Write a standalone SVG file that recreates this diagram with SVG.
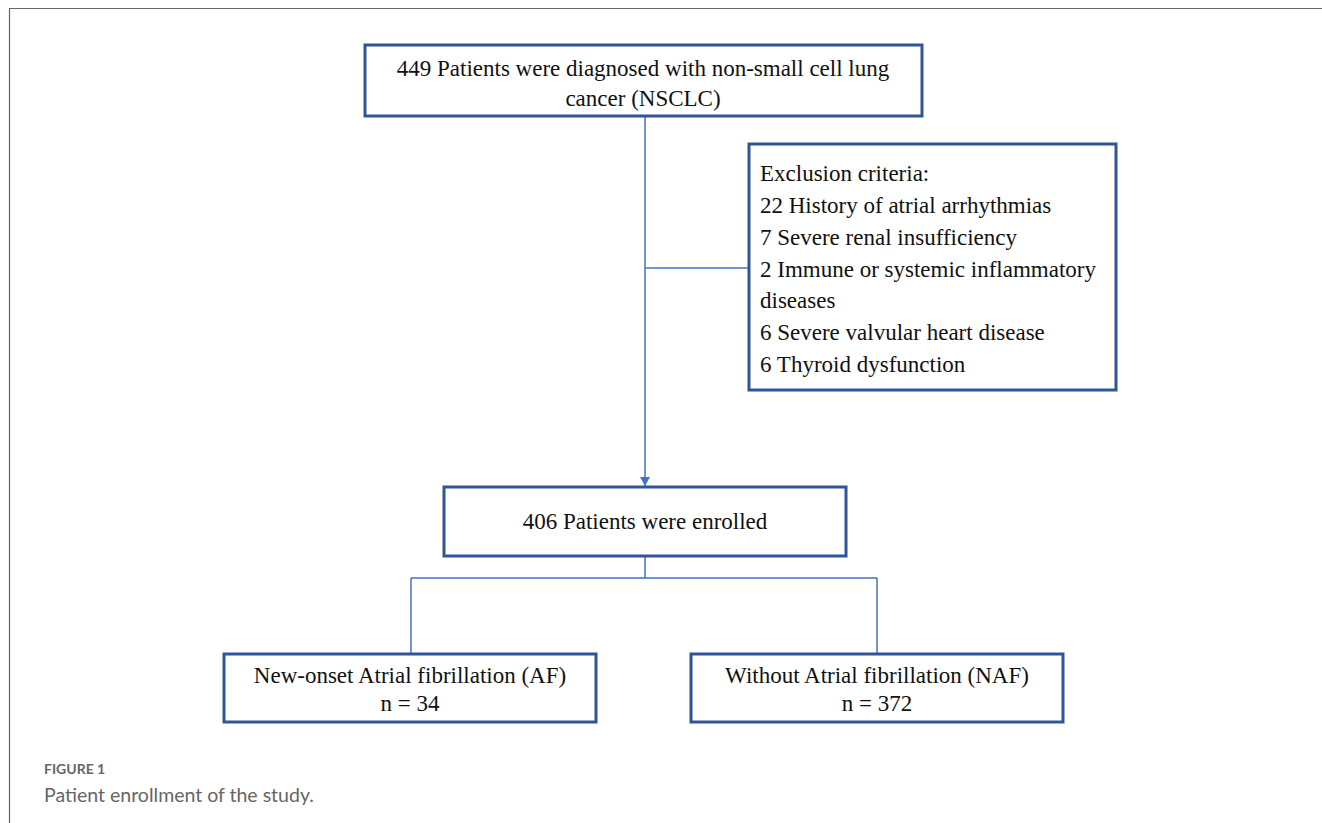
<svg xmlns="http://www.w3.org/2000/svg" width="1322" height="823" viewBox="0 0 1322 823">
<style>
.box{fill:#fff;stroke:#2F5597;stroke-width:3}
.t{font-family:"Liberation Serif","Times New Roman",serif;font-size:23px;fill:#111}
.c{text-anchor:middle}
.conn{fill:none;stroke:#4472C4;stroke-width:1.5}
.cap{font-family:"Lato","Open Sans",sans-serif;fill:#666}
</style>
<defs>
<marker id="arr" markerWidth="12" markerHeight="12" refX="9" refY="5" orient="auto" markerUnits="userSpaceOnUse">
<path d="M0,0 L9,5 L0,10 Z" fill="#4472C4"/>
</marker>
</defs>
<rect x="0" y="0" width="1322" height="823" fill="#fff"/>
<path d="M9.5,823 L9.5,8.5 L1322,8.5" fill="none" stroke="#666" stroke-width="1.2"/>
<g id="connectors">
<path class="conn" d="M645,117 L645,486" marker-end="url(#arr)"/>
<path class="conn" d="M645,268 L748,268"/>
<path class="conn" d="M645,557 L645,578 M411,578 L877,578 M411,578 L411,653 M877,578 L877,653"/>
</g>
<g id="n1">
<rect class="box" x="365" y="45" width="557" height="71"/>
<text class="t c" x="643" y="76">449 Patients were diagnosed with non-small cell lung</text>
<text class="t c" x="643" y="106">cancer (NSCLC)</text>
</g>
<g id="n2">
<rect class="box" x="749" y="144" width="367" height="246"/>
<text class="t" x="760" y="181">Exclusion criteria:</text>
<text class="t" x="760" y="213">22 History of atrial arrhythmias</text>
<text class="t" x="760" y="245">7 Severe renal insufficiency</text>
<text class="t" x="760" y="277">2 Immune or systemic inflammatory</text>
<text class="t" x="760" y="308">diseases</text>
<text class="t" x="760" y="340">6 Severe valvular heart disease</text>
<text class="t" x="760" y="372">6 Thyroid dysfunction</text>
</g>
<g id="n3">
<rect class="box" x="444" y="487" width="402" height="69"/>
<text class="t c" x="645" y="529">406 Patients were enrolled</text>
</g>
<g id="n4">
<rect class="box" x="224" y="654" width="372" height="68"/>
<text class="t c" x="410" y="683">New-onset Atrial fibrillation (AF)</text>
<text class="t c" x="410" y="711">n = 34</text>
</g>
<g id="n5">
<rect class="box" x="691" y="654" width="372" height="68"/>
<text class="t c" x="877" y="683">Without Atrial fibrillation (NAF)</text>
<text class="t c" x="877" y="711">n = 372</text>
</g>
<text class="cap" x="44" y="774" font-size="14" font-weight="bold">FIGURE 1</text>
<text class="cap" x="44" y="802" font-size="19.5">Patient enrollment of the study.</text>
</svg>
